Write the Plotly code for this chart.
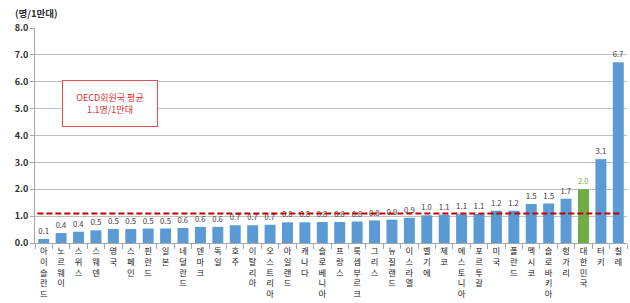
import plotly.graph_objects as go

countries = ["아이슬란드", "노르웨이", "스위스", "스웨덴", "영국", "스페인", "핀란드", "일본",
             "네덜란드", "덴마크", "독일", "호주", "이탈리아", "오스트리아", "아일랜드", "캐나다",
             "슬로베니아", "프랑스", "룩셈부르크", "그리스", "뉴질랜드", "이스라엘", "벨기에", "체코",
             "에스토니아", "포르투갈", "미국", "폴란드", "멕시코", "슬로바키아", "헝가리", "대한민국",
             "터키", "칠레"]
values = [0.15, 0.37, 0.42, 0.47, 0.52, 0.52, 0.54, 0.54, 0.56, 0.60, 0.60, 0.66, 0.66, 0.68,
          0.77, 0.77, 0.78, 0.78, 0.80, 0.84, 0.87, 0.94, 1.03, 1.05, 1.07, 1.08, 1.20, 1.20,
          1.45, 1.47, 1.65, 2.00, 3.12, 6.73]
labels = ["0.1", "0.4", "0.4", "0.5", "0.5", "0.5", "0.5", "0.5", "0.6", "0.6", "0.6", "0.7",
          "0.7", "0.7", "0.8", "0.8", "0.8", "0.8", "0.8", "0.8", "0.9", "0.9", "1.0", "1.1",
          "1.1", "1.1", "1.2", "1.2", "1.5", "1.5", "1.7", "2.0", "3.1", "6.7"]
oecd_avg = 1.1
highlight = "대한민국"

blue = "#5B9BD5"
green = "#70AD47"
bar_colors = [green if c == highlight else blue for c in countries]
text_colors = ["#70AD47" if c == highlight else "#404040" for c in countries]
tick_text = ["<br>".join(list(c)) for c in countries]

FONT = "Noto Sans CJK KR"

fig = go.Figure()
fig.add_trace(go.Bar(
    x=countries, y=values, marker=dict(color=bar_colors, line=dict(width=0)),
    text=labels, textposition="outside", cliponaxis=False,
    textfont=dict(size=8, color=text_colors, family=FONT),
))
fig.add_shape(type="line", xref="paper", yref="y", x0=0.004, x1=0.992, y0=oecd_avg, y1=oecd_avg,
              line=dict(color="#C00000", width=2, dash="6px,3px"))
fig.add_annotation(xref="paper", yref="y", x=0.127, y=5.2, xanchor="center", yanchor="middle",
                   text="OECD회원국 평균<br>1.1명/1만대", showarrow=False,
                   font=dict(size=9, color="#E03030", family=FONT),
                   bgcolor="white", bordercolor="#E05050", borderwidth=1,
                   borderpad=10, align="center", width=74)
fig.add_annotation(xref="paper", yref="paper", x=-0.037, y=1.0, yshift=6,
                   xanchor="left", yanchor="bottom",
                   text="(명/1만대)", showarrow=False,
                   font=dict(size=9.5, color="#303030", family=FONT, weight="bold"))

fig.update_layout(
    width=630, height=303, margin=dict(l=35, r=3, t=28, b=60),
    plot_bgcolor="white", paper_bgcolor="white", showlegend=False,
    bargap=0.37, font=dict(family=FONT),
)
fig.update_xaxes(tickvals=countries, ticktext=tick_text, tickangle=0, automargin=False,
                 tickfont=dict(size=8.3, color="#202020", family=FONT),
                 ticks="outside", tickson="boundaries", ticklen=5, tickcolor="#A6A6A6",
                 showline=True, linecolor="#A6A6A6", linewidth=1)
fig.update_yaxes(range=[0, 8], dtick=1, tickformat=".1f", automargin=False,
                 tickfont=dict(size=9, color="#303030", family=FONT, weight="bold"),
                 ticks="outside", ticklen=4, tickcolor="#A6A6A6",
                 showgrid=True, gridcolor="#BFBFBF", gridwidth=1,
                 showline=True, linecolor="#A6A6A6", linewidth=1, zeroline=False)

fig.write_html("out.html")
